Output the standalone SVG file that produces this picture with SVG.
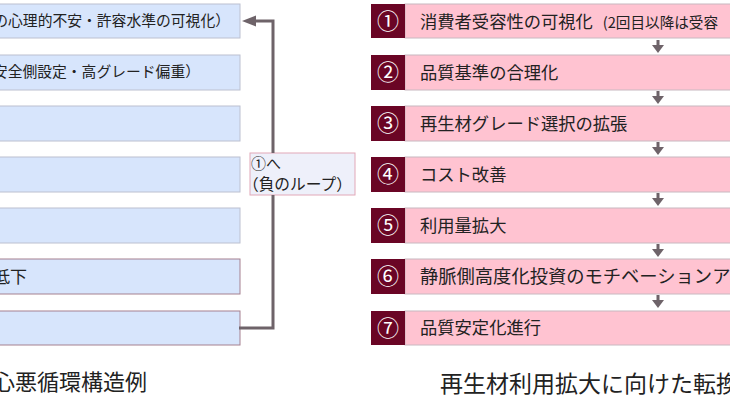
<svg xmlns="http://www.w3.org/2000/svg" width="730" height="410" viewBox="0 0 730 410">
<defs>
<style>
.t{font-family:"Noto Sans CJK JP","Noto Sans CJK SC",sans-serif;fill:#222;}
.lb{fill:#d7e5fc;stroke:#bcc0d0;stroke-width:1;}
.lb2{fill:#d7e5fc;stroke:#a58090;stroke-width:1;}
.pk{fill:#ffc3d1;stroke:#c8b8c0;stroke-width:1;}
.nm{fill:#6a0525;}
.num{font-family:"Noto Sans CJK JP",sans-serif;fill:#fff;font-size:22px;text-anchor:middle;}
.conn{stroke:#6e6369;stroke-width:3;fill:none;}
.ah{fill:#6e6369;}
</style>
</defs>
<g id="left-1"><rect class="lb" x="-10" y="4" width="250" height="34"/><text class="t" x="230" y="26" font-size="14.8" text-anchor="end">の心理的不安・許容水準の可視化）</text></g>
<g id="left-2"><rect class="lb" x="-10" y="55" width="250" height="35"/><text class="t" x="200" y="77" font-size="14.8" text-anchor="end">安全側設定・高グレード偏重）</text></g>
<g id="left-3"><rect class="lb" x="-10" y="106" width="250" height="35"/></g>
<g id="left-4"><rect class="lb" x="-10" y="157" width="250" height="35"/></g>
<g id="left-5"><rect class="lb" x="-10" y="208" width="250" height="35"/></g>
<g id="left-6"><rect class="lb2" x="-10" y="259" width="250" height="35"/><text class="t" x="27" y="283" font-size="17" text-anchor="end">低下</text></g>
<g id="left-7"><rect class="lb2" x="-10" y="311" width="250" height="34"/></g>
<g id="loop-label"><rect x="250" y="153" width="105" height="42" fill="#eef0fa" stroke="#e2a8b8" stroke-width="1"/><text class="t" x="251" y="169" font-size="15">①へ</text><text class="t" x="243" y="190" font-size="15.7">（負のループ）</text></g>
<g id="connectors">
<path class="conn" d="M239 328 H273 V195 M273 153 V21 H254"/>
<polygon class="ah" points="242,21 256,15.5 256,26.5"/>
<g class="ah">
<rect x="656.5" y="40" width="3" height="6"/><polygon points="652,45 664,45 658,53"/>
<rect x="656.5" y="91" width="3" height="6"/><polygon points="652,96 664,96 658,104"/>
<rect x="656.5" y="142" width="3" height="6"/><polygon points="652,147 664,147 658,155"/>
<rect x="656.5" y="193" width="3" height="6"/><polygon points="652,198 664,198 658,206"/>
<rect x="656.5" y="244" width="3" height="6"/><polygon points="652,249 664,249 658,257"/>
<rect x="656.5" y="295" width="3" height="6"/><polygon points="652,300 664,300 658,308"/>
</g>
</g>
<g id="step-1"><rect class="pk" x="405" y="4" width="340" height="34"/><rect class="nm" x="371" y="4" width="34" height="34"/><text class="num" x="388" y="29">①</text><text class="t" x="420" y="28" font-size="17.3">消費者受容性の可視化<tspan font-size="14.6" dx="10">(2回目以降は受容</tspan></text></g>
<g id="step-2"><rect class="pk" x="405" y="55" width="340" height="35"/><rect class="nm" x="371" y="55" width="34" height="35"/><text class="num" x="388" y="80">②</text><text class="t" x="420" y="79" font-size="17.3">品質基準の合理化</text></g>
<g id="step-3"><rect class="pk" x="405" y="106" width="340" height="35"/><rect class="nm" x="371" y="106" width="34" height="35"/><text class="num" x="388" y="131">③</text><text class="t" x="420" y="130" font-size="17.3">再生材グレード選択の拡張</text></g>
<g id="step-4"><rect class="pk" x="405" y="157" width="340" height="35"/><rect class="nm" x="371" y="157" width="34" height="35"/><text class="num" x="388" y="182">④</text><text class="t" x="420" y="181" font-size="17.3">コスト改善</text></g>
<g id="step-5"><rect class="pk" x="405" y="208" width="340" height="35"/><rect class="nm" x="371" y="208" width="34" height="35"/><text class="num" x="388" y="233">⑤</text><text class="t" x="420" y="232" font-size="17.3">利用量拡大</text></g>
<g id="step-6"><rect class="pk" x="405" y="259" width="340" height="35"/><rect class="nm" x="371" y="259" width="34" height="35"/><text class="num" x="388" y="284">⑥</text><text class="t" x="420" y="283" font-size="18.3">静脈側高度化投資のモチベーションア</text></g>
<g id="step-7"><rect class="pk" x="405" y="311" width="340" height="34"/><rect class="nm" x="371" y="311" width="34" height="34"/><text class="num" x="388" y="336">⑦</text><text class="t" x="420" y="334" font-size="17.3">品質安定化進行</text></g>
<g id="titles">
<text class="t" x="147" y="390" font-size="22" text-anchor="end">心悪循環構造例</text>
<text class="t" x="440" y="392" font-size="23">再生材利用拡大に向けた転換</text>
</g>
</svg>
